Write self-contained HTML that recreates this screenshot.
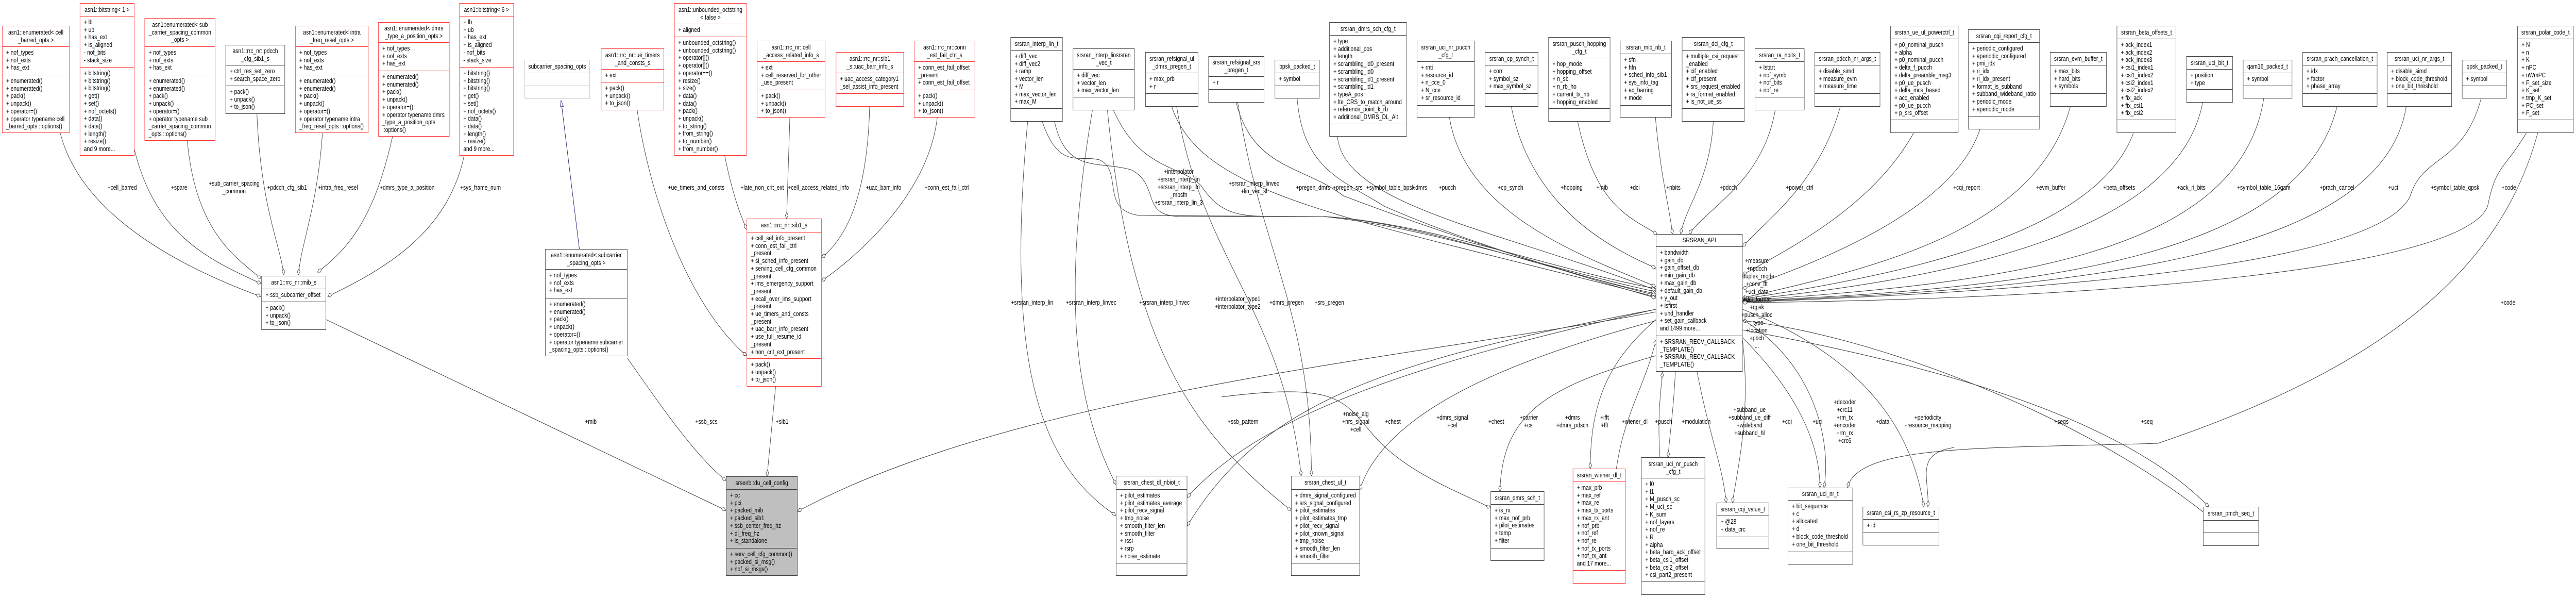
<!DOCTYPE html>
<html><head><meta charset="utf-8">
<style>
html,body{margin:0;padding:0;background:#fff;overflow:hidden}
#root{display:block;width:100vw;height:100vh}
#c{position:relative;width:6327px;height:1160px;overflow:hidden;background:#fff}
#c>svg{position:absolute;left:0;top:0}
.b{position:absolute;box-sizing:border-box;border:1.5px solid #404040;background:#fff;display:flex;flex-direction:column;font:13px/14.7px "Liberation Sans",sans-serif;color:#000;overflow:hidden}
.b>div{box-sizing:border-box;border-bottom:1.5px solid #404040;padding:4px 0 0 9px;white-space:nowrap;overflow:hidden;flex:none}
.b>div:last-child{border-bottom:none;flex:1}
.b>.h{text-align:center;padding:0 2px;display:flex;flex-direction:column;justify-content:center}
.r{border-color:#f33}.r>div{border-color:#f33}
.g{background:#bfbfbf}
.gb{border-color:#bbb}.gb>div{border-color:#bbb}
text{font-family:"Liberation Sans",sans-serif;font-size:13px;fill:#000;text-anchor:middle}
</style></head><body>
<svg id="root" viewBox="0 0 6327 1160" preserveAspectRatio="none" xmlns="http://www.w3.org/2000/svg">
<foreignObject x="0" y="0" width="6327" height="1160">
<div xmlns="http://www.w3.org/1999/xhtml" id="c">
<svg width="6327" height="1160" viewBox="0 0 6327 1160">
<defs>
<marker id="d" markerUnits="userSpaceOnUse" markerWidth="14" markerHeight="10" refX="13" refY="4.5" orient="auto"><path d="M1,4.5 L7,1 L13,4.5 L7,8 Z" fill="#fff" stroke="#404040" stroke-width="1"/></marker>
<marker id="t" markerUnits="userSpaceOnUse" markerWidth="14" markerHeight="12" refX="13" refY="5" orient="auto"><path d="M1,1 L13,5 L1,9 Z" fill="#fff" stroke="#191970" stroke-width="1"/></marker>
</defs>
<g fill="none" stroke="#404040" stroke-width="1.1" marker-end="url(#d)">
<path d="M148,258 C200,420 450,520 640,575"/>
<path d="M330,290 C380,450 500,500 641,550"/>
<path d="M460,273 C480,450 580,500 641,540"/>
<path d="M631,221 C640,400 690,480 697,533"/>
<path d="M792,258 C780,400 740,470 733,533"/>
<path d="M964,265 C920,420 860,480 780,528"/>
<path d="M1140,302 C1100,450 950,520 805,575"/>
<path d="M1565,214 C1600,400 1700,600 1834,690"/>
<path d="M1780,302 C1800,380 1820,420 1834,445"/>
<path d="M1940,228 L1932,424"/>
<path d="M2136,207 C2130,380 2080,460 2018,500"/>
<path d="M2302,228 C2280,380 2100,500 2018,545"/>
<path d="M1541,695 C1600,760 1700,880 1783,932"/>
<path d="M1905,750 L1884,924"/>
<path d="M801,620 L1783,990"/>
<path d="M4067,605 C3500,690 2500,760 1959,992"/>
<path d="M2524,236 C2470,700 2550,900 2741,1000"/>
<path d="M2683,214 C2600,600 2650,800 2741,940"/>
<path d="M2720,214 C2780,700 2950,850 3171,990"/>
<path d="M2735,214 C2800,330 2900,320 2950,360 C3000,420 3050,420 3150,420 L3250,420 C3500,440 3800,520 4067,566"/>
<path d="M2590,236 C2620,340 2700,310 2780,330 C2850,360 2800,420 2900,420 L3250,420 C3500,430 3800,520 4067,560"/>
<path d="M2560,236 C2600,330 2650,300 2700,310 C2760,330 2700,410 2800,418 L3250,420 C3500,432 3800,525 4067,570"/>
<path d="M2878,207 C2950,380 3300,420 4067,576"/>
<path d="M2890,207 C2950,500 3150,600 3196,923"/>
<path d="M3040,199 C3100,500 3220,600 3221,923"/>
<path d="M3036,199 C3080,330 3200,320 3300,380 C3500,440 3800,520 4067,573"/>
<path d="M3186,191 C3200,330 3300,350 3400,400 C3600,470 3900,540 4067,578"/>
<path d="M3285,265 C3300,400 3700,450 4067,563"/>
<path d="M3560,228 C3600,420 3900,500 4067,556"/>
<path d="M3712,207 C3760,400 3950,480 4067,520"/>
<path d="M3875,236 C3920,400 4000,420 4070,454"/>
<path d="M4066,228 C4080,350 4100,400 4108,454"/>
<path d="M4208,236 C4200,350 4140,400 4128,454"/>
<path d="M4360,214 C4330,350 4200,400 4148,454"/>
<path d="M4520,207 C4470,350 4350,420 4280,478"/>
<path d="M4700,258 C4600,400 4400,480 4280,533"/>
<path d="M4863,251 C4800,400 4500,500 4280,560"/>
<path d="M5085,207 C5000,450 4600,520 4280,578"/>
<path d="M5240,258 C5150,450 4700,530 4280,580"/>
<path d="M5410,199 C5350,450 4800,540 4280,582"/>
<path d="M5560,191 C5500,500 4900,550 4280,583"/>
<path d="M5740,207 C5650,500 5000,560 4280,584"/>
<path d="M5910,207 C5850,500 5100,560 4280,585"/>
<path d="M6094,191 C6050,320 5950,300 5920,380 C5850,500 5200,560 4280,586"/>
<path d="M6205,258 C6150,330 6130,320 6110,400 C6050,520 5200,580 4280,587"/>
<path d="M6233,258 C6150,500 5900,700 5300,860 C4900,870 4560,860 4538,946"/>
<path d="M4280,640 C4700,700 5200,800 5425,983"/>
<path d="M5411,993 C5100,800 4600,650 4280,622"/>
<path d="M4067,622 C3700,700 3400,800 3340,950"/>
<path d="M4067,600 C3500,700 3100,800 2916,965"/>
<path d="M4067,600 C3400,700 3100,780 2916,1020"/>
<path d="M3000,770 C3300,740 3300,780 3380,850 S3600,960 3661,985"/>
<path d="M4067,690 C3800,750 3690,800 3684,953"/>
<path d="M4067,620 C3950,700 3906,780 3906,909"/>
<path d="M3970,909 C3990,800 4040,750 4067,660"/>
<path d="M4077,887 C4070,800 4080,760 4083,722"/>
<path d="M4115,721 C4110,800 4100,850 4097,887"/>
<path d="M4168,721 C4200,850 4230,900 4240,975"/>
<path d="M4280,660 C4300,800 4270,900 4255,975"/>
<path d="M4280,655 C4400,750 4470,850 4470,946"/>
<path d="M4280,620 C4450,700 4500,850 4480,946"/>
<path d="M4280,600 C4600,700 4700,850 4725,983"/>
<path d="M4800,868 C4700,880 4740,930 4735,983"/>
</g>
<path d="M1423,483 L1378,195" fill="none" stroke="#191970" stroke-width="1.1" marker-end="url(#t)"/>
<g>
<text x="300" y="368">+cell_barred</text>
<text x="440" y="368">+spare</text>
<text x="575" y="360">+sub_carrier_spacing</text><text x="575" y="375">_common</text>
<text x="705" y="368">+pdcch_cfg_sib1</text>
<text x="830" y="368">+intra_freq_resel</text>
<text x="1000" y="368">+dmrs_type_a_position</text>
<text x="1180" y="368">+sys_frame_num</text>
<text x="1710" y="368">+ue_timers_and_consts</text>
<text x="1872" y="368">+late_non_crit_ext</text>
<text x="2010" y="368">+cell_access_related_info</text>
<text x="2170" y="368">+uac_barr_info</text>
<text x="2325" y="368">+conn_est_fail_ctrl</text>
<text x="2895" y="337">+interpolator</text><text x="2895" y="352">+srsran_interp_lin</text><text x="2895" y="367">+srsran_interp_lin</text><text x="2895" y="382">_mbsfn</text><text x="2895" y="397">+srsran_interp_lin_3</text>
<text x="3080" y="360">+srsran_interp_linvec</text><text x="3080" y="375">+lin_vec_sl</text>
<text x="3225" y="368">+pregen_dmrs</text>
<text x="3310" y="368">+pregen_srs</text>
<text x="3415" y="368">+symbol_table_bpsk</text>
<text x="3487" y="368">+dmrs</text>
<text x="3555" y="368">+pucch</text>
<text x="3710" y="368">+cp_synch</text>
<text x="3860" y="368">+hopping</text>
<text x="3935" y="368">+mib</text>
<text x="4015" y="368">+dci</text>
<text x="4110" y="368">+nbits</text>
<text x="4245" y="368">+pdcch</text>
<text x="4420" y="368">+power_ctrl</text>
<text x="4830" y="368">+cqi_report</text>
<text x="5037" y="368">+evm_buffer</text>
<text x="5205" y="368">+beta_offsets</text>
<text x="5382" y="368">+ack_ri_bits</text>
<text x="5560" y="368">+symbol_table_16qam</text>
<text x="5740" y="368">+prach_cancel</text>
<text x="5878" y="368">+uci</text>
<text x="6030" y="368">+symbol_table_qpsk</text>
<text x="6162" y="368">+code</text>
<text x="6160" y="591">+code</text>
<text x="2535" y="591">+srsran_interp_lin</text>
<text x="2680" y="591">+srsran_interp_linvec</text>
<text x="2860" y="591">+srsran_interp_linvec</text>
<text x="3040" y="584">+interpolator_type1</text><text x="3040" y="599">+interpolator_type2</text>
<text x="3160" y="591">+dmrs_pregen</text>
<text x="3265" y="591">+srs_pregen</text>
<text x="4315" y="510">+measure</text><text x="4315" y="525">+npdcch</text><text x="4315" y="540">+duplex_mode</text><text x="4315" y="555">+conv_fft</text><text x="4315" y="570">+uci_data</text><text x="4315" y="585">+dci_format</text><text x="4315" y="600">+qpsk</text><text x="4315" y="615">+pusch_alloc</text><text x="4315" y="630">_type</text><text x="4315" y="645">+location</text><text x="4315" y="660">+pbch</text><text x="4315" y="675">...</text>
<text x="1735" y="822">+ssb_scs</text>
<text x="1921" y="822">+sib1</text>
<text x="1451" y="822">+mib</text>
<text x="3053" y="822">+ssb_pattern</text>
<text x="3330" y="807">+noise_alg</text><text x="3330" y="822">+nrs_signal</text><text x="3330" y="837">+cell</text>
<text x="3421" y="822">+chest</text>
<text x="3567" y="814">+dmrs_signal</text><text x="3567" y="829">+cel</text>
<text x="3675" y="822">+chest</text>
<text x="3755" y="814">+carrier</text><text x="3755" y="829">+csi</text>
<text x="3862" y="814">+dmrs</text><text x="3862" y="829">+dmrs_pdsch</text>
<text x="3941" y="814">+ifft</text><text x="3941" y="829">+fft</text>
<text x="4015" y="822">+wiener_dl</text>
<text x="4086" y="822">+pusch</text>
<text x="4166" y="822">+modulation</text>
<text x="4297" y="799">+subband_ue</text><text x="4297" y="814">+subband_ue_diff</text><text x="4297" y="829">+wideband</text><text x="4297" y="844">+subband_hl</text>
<text x="4389" y="822">+cqi</text>
<text x="4464" y="822">+uci</text>
<text x="4531" y="784">+decoder</text><text x="4531" y="799">+crc11</text><text x="4531" y="814">+rm_tx</text><text x="4531" y="829">+encoder</text><text x="4531" y="844">+rm_rx</text><text x="4531" y="859">+crc6</text>
<text x="4624" y="822">+data</text>
<text x="4735" y="814">+periodicity</text><text x="4735" y="829">+resource_mapping</text>
<text x="5063" y="822">+seqs</text>
<text x="5273" y="822">+seq</text>
</g>
</svg>

<div class="b r" style="left:5px;top:50px;width:166px;height:208px"><div class="h" style="height:40px">asn1::enumerated&lt; cell<br/>_barred_opts &gt;</div><div style="height:55px">+ nof_types<br/>+ nof_exts<br/>+ has_ext</div><div>+ enumerated()<br/>+ enumerated()<br/>+ pack()<br/>+ unpack()<br/>+ operator=()<br/>+ operator typename cell<br/>_barred_opts ::options()</div></div>

<div class="b r" style="left:196px;top:6px;width:134px;height:296px"><div class="h" style="height:25px">asn1::bitstring&lt; 1 &gt;</div><div style="height:99px">+ lb<br/>+ ub<br/>+ has_ext<br/>+ is_aligned<br/>- nof_bits<br/>- stack_size</div><div>+ bitstring()<br/>+ bitstring()<br/>+ bitstring()<br/>+ get()<br/>+ set()<br/>+ nof_octets()<br/>+ data()<br/>+ data()<br/>+ length()<br/>+ resize()<br/>and 9 more...</div></div>

<div class="b r" style="left:355px;top:35px;width:174px;height:238px"><div class="h" style="height:55px">asn1::enumerated&lt; sub<br/>_carrier_spacing_common<br/>_opts &gt;</div><div style="height:55px">+ nof_types<br/>+ nof_exts<br/>+ has_ext</div><div>+ enumerated()<br/>+ enumerated()<br/>+ pack()<br/>+ unpack()<br/>+ operator=()<br/>+ operator typename sub<br/>_carrier_spacing_common<br/>_opts ::options()</div></div>

<div class="b" style="left:554px;top:87px;width:146px;height:134px"><div class="h" style="height:39px">asn1::rrc_nr::pdcch<br/>_cfg_sib1_s</div><div style="height:40px">+ ctrl_res_set_zero<br/>+ search_space_zero</div><div>+ pack()<br/>+ unpack()<br/>+ to_json()</div></div>

<div class="b r" style="left:725px;top:50px;width:180px;height:208px"><div class="h" style="height:40px">asn1::enumerated&lt; intra<br/>_freq_resel_opts &gt;</div><div style="height:55px">+ nof_types<br/>+ nof_exts<br/>+ has_ext</div><div>+ enumerated()<br/>+ enumerated()<br/>+ pack()<br/>+ unpack()<br/>+ operator=()<br/>+ operator typename intra<br/>_freq_resel_opts ::options()</div></div>

<div class="b r" style="left:929px;top:43px;width:175px;height:222px"><div class="h" style="height:39px">asn1::enumerated&lt; dmrs<br/>_type_a_position_opts &gt;</div><div style="height:55px">+ nof_types<br/>+ nof_exts<br/>+ has_ext</div><div>+ enumerated()<br/>+ enumerated()<br/>+ pack()<br/>+ unpack()<br/>+ operator=()<br/>+ operator typename dmrs<br/>_type_a_position_opts<br/>::options()</div></div>

<div class="b r" style="left:1128px;top:6px;width:134px;height:296px"><div class="h" style="height:25px">asn1::bitstring&lt; 6 &gt;</div><div style="height:99px">+ lb<br/>+ ub<br/>+ has_ext<br/>+ is_aligned<br/>- nof_bits<br/>- stack_size</div><div>+ bitstring()<br/>+ bitstring()<br/>+ bitstring()<br/>+ get()<br/>+ set()<br/>+ nof_octets()<br/>+ data()<br/>+ data()<br/>+ length()<br/>+ resize()<br/>and 9 more...</div></div>

<div class="b gb" style="left:1288px;top:116px;width:161px;height:75px"><div class="h" style="height:25px">subcarrier_spacing_opts</div><div style="height:25px"></div><div></div></div>

<div class="b r" style="left:1476px;top:94px;width:155px;height:120px"><div class="h" style="height:40px">asn1::rrc_nr::ue_timers<br/>_and_consts_s</div><div style="height:25px">+ ext</div><div>+ pack()<br/>+ unpack()<br/>+ to_json()</div></div>

<div class="b" style="left:1339px;top:483px;width:202px;height:208px"><div class="h" style="height:39px">asn1::enumerated&lt; subcarrier<br/>_spacing_opts &gt;</div><div style="height:56px">+ nof_types<br/>+ nof_exts<br/>+ has_ext</div><div>+ enumerated()<br/>+ enumerated()<br/>+ pack()<br/>+ unpack()<br/>+ operator=()<br/>+ operator typename subcarrier<br/>_spacing_opts ::options()</div></div>

<div class="b" style="left:642px;top:535px;width:159px;height:105px"><div class="h" style="height:25px">asn1::rrc_nr::mib_s</div><div style="height:25px">+ ssb_subcarrier_offset</div><div>+ pack()<br/>+ unpack()<br/>+ to_json()</div></div>

<div class="b r" style="left:1656px;top:6px;width:178px;height:296px"><div class="h" style="height:40px">asn1::unbounded_octstring<br/>&lt; false &gt;</div><div style="height:25px">+ aligned</div><div>+ unbounded_octstring()<br/>+ unbounded_octstring()<br/>+ operator[]()<br/>+ operator[]()<br/>+ operator==()<br/>+ resize()<br/>+ size()<br/>+ data()<br/>+ data()<br/>+ pack()<br/>+ unpack()<br/>+ to_string()<br/>+ from_string()<br/>+ to_number()<br/>+ from_number()</div></div>

<div class="b r" style="left:1859px;top:79px;width:168px;height:149px"><div class="h" style="height:40px">asn1::rrc_nr::cell<br/>_access_related_info_s</div><div style="height:55px">+ ext<br/>+ cell_reserved_for_other<br/>_use_present</div><div>+ pack()<br/>+ unpack()<br/>+ to_json()</div></div>

<div class="b r" style="left:2053px;top:101px;width:167px;height:106px"><div class="h" style="height:40px">asn1::rrc_nr::sib1<br/>_s::uac_barr_info_s</div><div style="height:40px">+ uac_access_category1<br/>_sel_assist_info_present</div><div></div></div>

<div class="b r" style="left:2245px;top:79px;width:150px;height:149px"><div class="h" style="height:40px">asn1::rrc_nr::conn<br/>_est_fail_ctrl_s</div><div style="height:55px">+ conn_est_fail_offset<br/>_present<br/>+ conn_est_fail_offset</div><div>+ pack()<br/>+ unpack()<br/>+ to_json()</div></div>

<div class="b" style="left:2482px;top:72px;width:128px;height:164px"><div class="h" style="height:25px">srsran_interp_lin_t</div><div style="height:113px">+ diff_vec<br/>+ diff_vec2<br/>+ ramp<br/>+ vector_len<br/>+ M<br/>+ max_vector_len<br/>+ max_M</div><div></div></div>

<div class="b" style="left:2635px;top:94px;width:152px;height:120px"><div class="h" style="height:40px">srsran_interp_linsrsran<br/>_vec_t</div><div style="height:54px">+ diff_vec<br/>+ vector_len<br/>+ max_vector_len</div><div></div></div>

<div class="b" style="left:2813px;top:101px;width:130px;height:106px"><div class="h" style="height:40px">srsran_refsignal_ul<br/>_dmrs_pregen_t</div><div style="height:40px">+ max_prb<br/>+ r</div><div></div></div>

<div class="b" style="left:2968px;top:109px;width:137px;height:90px"><div class="h" style="height:39px">srsran_refsignal_srs<br/>_pregen_t</div><div style="height:25px">+ r</div><div></div></div>

<div class="b" style="left:3131px;top:116px;width:110px;height:75px"><div class="h" style="height:25px">bpsk_packed_t</div><div style="height:25px">+ symbol</div><div></div></div>

<div class="b" style="left:3265px;top:43px;width:190px;height:222px"><div class="h" style="height:25px">srsran_dmrs_sch_cfg_t</div><div style="height:172px">+ type<br/>+ additional_pos<br/>+ length<br/>+ scrambling_id0_present<br/>+ scrambling_id0<br/>+ scrambling_id1_present<br/>+ scrambling_id1<br/>+ typeA_pos<br/>+ lte_CRS_to_match_around<br/>+ reference_point_k_rb<br/>+ additional_DMRS_DL_Alt</div><div></div></div>

<div class="b" style="left:3480px;top:79px;width:142px;height:149px"><div class="h" style="height:40px">srsran_uci_nr_pucch<br/>_cfg_t</div><div style="height:85px">+ rnti<br/>+ resource_id<br/>+ n_cce_0<br/>+ N_cce<br/>+ sr_resource_id</div><div></div></div>

<div class="b" style="left:3647px;top:101px;width:131px;height:106px"><div class="h" style="height:25px">srsran_cp_synch_t</div><div style="height:55px">+ corr<br/>+ symbol_sz<br/>+ max_symbol_sz</div><div></div></div>

<div class="b" style="left:3803px;top:72px;width:152px;height:164px"><div class="h" style="height:40px">srsran_pusch_hopping<br/>_cfg_t</div><div style="height:98px">+ hop_mode<br/>+ hopping_offset<br/>+ n_sb<br/>+ n_rb_ho<br/>+ current_tx_nb<br/>+ hopping_enabled</div><div></div></div>

<div class="b" style="left:3979px;top:79px;width:127px;height:149px"><div class="h" style="height:25px">srsran_mib_nb_t</div><div style="height:100px">+ sfn<br/>+ hfn<br/>+ sched_info_sib1<br/>+ sys_info_tag<br/>+ ac_barring<br/>+ mode</div><div></div></div>

<div class="b" style="left:4131px;top:72px;width:154px;height:164px"><div class="h" style="height:25px">srsran_dci_cfg_t</div><div style="height:113px">+ multiple_csi_request<br/>_enabled<br/>+ cif_enabled<br/>+ cif_present<br/>+ srs_request_enabled<br/>+ ra_format_enabled<br/>+ is_not_ue_ss</div><div></div></div>

<div class="b" style="left:4310px;top:94px;width:122px;height:120px"><div class="h" style="height:25px">srsran_ra_nbits_t</div><div style="height:69px">+ lstart<br/>+ nof_symb<br/>+ nof_bits<br/>+ nof_re</div><div></div></div>

<div class="b" style="left:4457px;top:101px;width:161px;height:106px"><div class="h" style="height:25px">srsran_pdcch_nr_args_t</div><div style="height:55px">+ disable_simd<br/>+ measure_evm<br/>+ measure_time</div><div></div></div>

<div class="b" style="left:4643px;top:50px;width:167px;height:208px"><div class="h" style="height:25px">srsran_ue_ul_powerctrl_t</div><div style="height:157px">+ p0_nominal_pusch<br/>+ alpha<br/>+ p0_nominal_pucch<br/>+ delta_f_pucch<br/>+ delta_preamble_msg3<br/>+ p0_ue_pusch<br/>+ delta_mcs_based<br/>+ acc_enabled<br/>+ p0_ue_pucch<br/>+ p_srs_offset</div><div></div></div>

<div class="b" style="left:4834px;top:57px;width:176px;height:194px"><div class="h" style="height:25px">srsran_cqi_report_cfg_t</div><div style="height:143px">+ periodic_configured<br/>+ aperiodic_configured<br/>+ pmi_idx<br/>+ ri_idx<br/>+ ri_idx_present<br/>+ format_is_subband<br/>+ subband_wideband_ratio<br/>+ periodic_mode<br/>+ aperiodic_mode</div><div></div></div>

<div class="b" style="left:5035px;top:101px;width:139px;height:106px"><div class="h" style="height:25px">srsran_evm_buffer_t</div><div style="height:55px">+ max_bits<br/>+ hard_bits<br/>+ symbols</div><div></div></div>

<div class="b" style="left:5199px;top:50px;width:146px;height:208px"><div class="h" style="height:25px">srsran_beta_offsets_t</div><div style="height:157px">+ ack_index1<br/>+ ack_index2<br/>+ ack_index3<br/>+ csi1_index1<br/>+ csi1_index2<br/>+ csi2_index1<br/>+ csi2_index2<br/>+ fix_ack<br/>+ fix_csi1<br/>+ fix_csi2</div><div></div></div>

<div class="b" style="left:5370px;top:109px;width:114px;height:90px"><div class="h" style="height:25px">srsran_uci_bit_t</div><div style="height:39px">+ position<br/>+ type</div><div></div></div>

<div class="b" style="left:5509px;top:116px;width:121px;height:75px"><div class="h" style="height:25px">qam16_packed_t</div><div style="height:25px">+ symbol</div><div></div></div>

<div class="b" style="left:5655px;top:101px;width:184px;height:106px"><div class="h" style="height:25px">srsran_prach_cancellation_t</div><div style="height:55px">+ idx<br/>+ factor<br/>+ phase_array</div><div></div></div>

<div class="b" style="left:5863px;top:101px;width:159px;height:106px"><div class="h" style="height:25px">srsran_uci_nr_args_t</div><div style="height:55px">+ disable_simd<br/>+ block_code_threshold<br/>+ one_bit_threshold</div><div></div></div>

<div class="b" style="left:6047px;top:116px;width:110px;height:75px"><div class="h" style="height:25px">qpsk_packed_t</div><div style="height:25px">+ symbol</div><div></div></div>

<div class="b" style="left:6183px;top:50px;width:138px;height:208px"><div class="h" style="height:25px">srsran_polar_code_t</div><div style="height:157px">+ N<br/>+ n<br/>+ K<br/>+ nPC<br/>+ nWmPC<br/>+ F_set_size<br/>+ K_set<br/>+ tmp_K_set<br/>+ PC_set<br/>+ F_set</div><div></div></div>

<div class="b" style="left:4067px;top:454px;width:213px;height:267px"><div class="h" style="height:24px">SRSRAN_API</div><div style="height:173px">+ bandwidth<br/>+ gain_db<br/>+ gain_offset_db<br/>+ min_gain_db<br/>+ max_gain_db<br/>+ default_gain_db<br/>+ y_out<br/>+ isfirst<br/>+ uhd_handler<br/>+ set_gain_callback<br/>and 1499 more...</div><div>+ SRSRAN_RECV_CALLBACK<br/>_TEMPLATE()<br/>+ SRSRAN_RECV_CALLBACK<br/>_TEMPLATE()</div></div>

<div class="b r" style="left:1834px;top:424px;width:184px;height:326px"><div class="h" style="height:26px">asn1::rrc_nr::sib1_s</div><div style="height:245px">+ cell_sel_info_present<br/>+ conn_est_fail_ctrl<br/>_present<br/>+ si_sched_info_present<br/>+ serving_cell_cfg_common<br/>_present<br/>+ ims_emergency_support<br/>_present<br/>+ ecall_over_ims_support<br/>_present<br/>+ ue_timers_and_consts<br/>_present<br/>+ uac_barr_info_present<br/>+ use_full_resume_id<br/>_present<br/>+ non_crit_ext_present</div><div>+ pack()<br/>+ unpack()<br/>+ to_json()</div></div>

<div class="b g" style="left:1783px;top:924px;width:176px;height:193px"><div class="h" style="height:25px">srsenb::du_cell_config</div><div style="height:114px">+ cc<br/>+ pci<br/>+ packed_mib<br/>+ packed_sib1<br/>+ ssb_center_freq_hz<br/>+ dl_freq_hz<br/>+ is_standalone</div><div>+ serv_cell_cfg_common()<br/>+ packed_si_msg()<br/>+ nof_si_msgs()</div></div>

<div class="b" style="left:2741px;top:923px;width:175px;height:194px"><div class="h" style="height:26px">srsran_chest_dl_nbiot_t</div><div style="height:143px">+ pilot_estimates<br/>+ pilot_estimates_average<br/>+ pilot_recv_signal<br/>+ tmp_noise<br/>+ smooth_filter_len<br/>+ smooth_filter<br/>+ rssi<br/>+ rsrp<br/>+ noise_estimate</div><div></div></div>

<div class="b" style="left:3171px;top:923px;width:169px;height:194px"><div class="h" style="height:26px">srsran_chest_ul_t</div><div style="height:143px">+ dmrs_signal_configured<br/>+ srs_signal_configured<br/>+ pilot_estimates<br/>+ pilot_estimates_tmp<br/>+ pilot_recv_signal<br/>+ pilot_known_signal<br/>+ tmp_noise<br/>+ smooth_filter_len<br/>+ smooth_filter</div><div></div></div>

<div class="b" style="left:3661px;top:953px;width:132px;height:135px"><div class="h" style="height:25px">srsran_dmrs_sch_t</div><div style="height:85px">+ is_rx<br/>+ max_nof_prb<br/>+ pilot_estimates<br/>+ temp<br/>+ filter</div><div></div></div>

<div class="b r" style="left:3863px;top:909px;width:130px;height:223px"><div class="h" style="height:25px">srsran_wiener_dl_t</div><div style="height:172px">+ max_prb<br/>+ max_ref<br/>+ max_re<br/>+ max_tx_ports<br/>+ max_rx_ant<br/>+ nof_prb<br/>+ nof_ref<br/>+ nof_re<br/>+ nof_tx_ports<br/>+ nof_rx_ant<br/>and 17 more...</div><div></div></div>

<div class="b" style="left:4031px;top:887px;width:157px;height:267px"><div class="h" style="height:40px">srsran_uci_nr_pusch<br/>_cfg_t</div><div style="height:201px">+ l0<br/>+ l1<br/>+ M_pusch_sc<br/>+ M_uci_sc<br/>+ K_sum<br/>+ nof_layers<br/>+ nof_re<br/>+ R<br/>+ alpha<br/>+ beta_harq_ack_offset<br/>+ beta_csi1_offset<br/>+ beta_csi2_offset<br/>+ csi_part2_present</div><div></div></div>

<div class="b" style="left:4216px;top:975px;width:129px;height:90px"><div class="h" style="height:25px">srsran_cqi_value_t</div><div style="height:41px">+ @28<br/>+ data_crc</div><div></div></div>

<div class="b" style="left:4391px;top:946px;width:160px;height:149px"><div class="h" style="height:24px">srsran_uci_nr_t</div><div style="height:100px">+ bit_sequence<br/>+ c<br/>+ allocated<br/>+ d<br/>+ block_code_threshold<br/>+ one_bit_threshold</div><div></div></div>

<div class="b" style="left:4575px;top:983px;width:188px;height:75px"><div class="h" style="height:24px">srsran_csi_rs_zp_resource_t</div><div style="height:26px">+ id</div><div></div></div>

<div class="b" style="left:5411px;top:983px;width:137px;height:76px"><div class="h" style="height:26px">srsran_pmch_seq_t</div><div style="height:24px"></div><div></div></div>

</div>
</foreignObject>
</svg>
</body></html>
